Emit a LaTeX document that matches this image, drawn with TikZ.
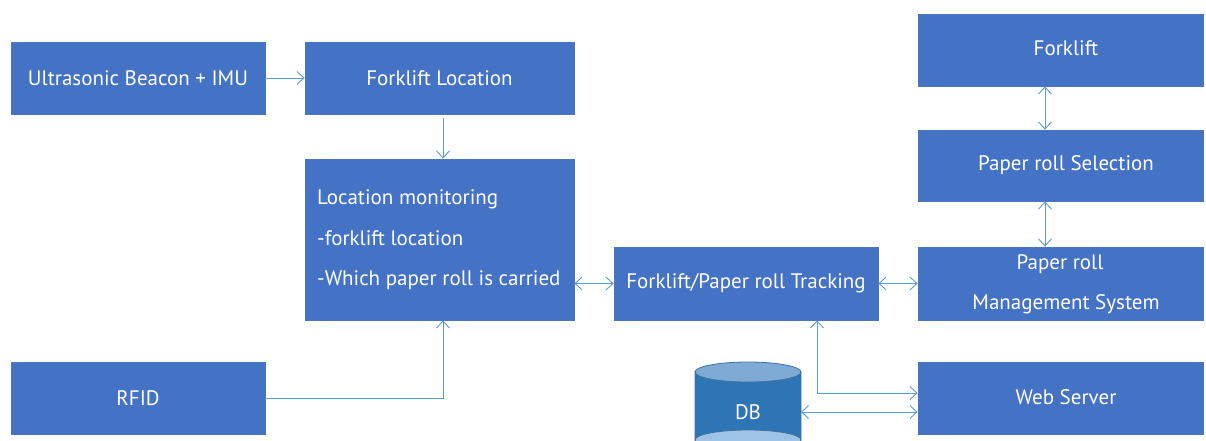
\documentclass[tikz,border=0pt]{standalone}
\usepackage{fontspec}
\setmainfont{PT Sans}
\usetikzlibrary{arrows.meta,positioning,calc}
\definecolor{boxfill}{HTML}{4472C4}
\definecolor{boxline}{HTML}{4A76C0}
\definecolor{conn}{HTML}{5B9BD5}
\definecolor{dbbody}{HTML}{2E75B6}
\definecolor{dbtop}{HTML}{7FAAD6}
\definecolor{dbbot}{HTML}{9DC3E6}
\definecolor{dbline}{HTML}{41719C}
\begin{document}
\begin{tikzpicture}[x=1pt,y=-1pt,
  txt/.style={text=white,font=\fontsize{21}{25}\selectfont,inner sep=0pt},
  blk/.style={draw=boxline,line width=0.8pt,fill=boxfill,txt},
  link/.style={draw=conn,line width=0.9pt,-{Straight Barb[length=7pt,width=13pt]}},
  dlink/.style={draw=conn,line width=0.9pt,{Straight Barb[length=7pt,width=13pt]}-{Straight Barb[length=7pt,width=13pt]}}]
\useasboundingbox (0,0) rectangle (1206,441);
\clip (0,0) rectangle (1206,441);
% boxes
\node[blk,minimum width=254pt,minimum height=72pt] (us) at (138,78) {Ultrasonic Beacon + IMU};
\node[blk,minimum width=269pt,minimum height=72pt] (fl) at (439.5,78) {Forklift Location};
\node[blk,minimum width=269pt,minimum height=161pt] (lm) at (439.5,239.5) {};
\node[blk,minimum width=254pt,minimum height=72pt] (rfid) at (138,398) {RFID};
\node[blk,minimum width=264pt,minimum height=73pt] (tr) at (746,283.5) {Forklift/Paper roll Tracking};
\node[blk,minimum width=285pt,minimum height=72pt] (fk) at (1060.5,50) {};
\node[blk,minimum width=285pt,minimum height=71pt] (ps) at (1060.5,165.5) {};
\node[blk,minimum width=285pt,minimum height=73pt] (pm) at (1060.5,283.5) {};
\node[blk,minimum width=285pt,minimum height=72pt] (ws) at (1060.5,398) {};
% texts
\node[txt] (fkt) at (1066,48) {Forklift};
\node[txt] (pst) at (1066,165) {Paper roll Selection};
\node[txt] (wst) at (1066,397) {Web Server};
\node[txt,anchor=base west] (lm1) at (317,204) {Location monitoring};
\node[txt,anchor=base west] (lm2) at (317,245) {-forklift location};
\node[txt,anchor=base west] (lm3) at (317,285) {-Which paper roll is carried};
\node[txt,anchor=base] (pm1) at (1060,269) {Paper roll};
\node[txt,anchor=base] (pm2) at (1066,309) {Management System};
% DB cylinder
\fill[dbbody,draw=dbline,line width=0.8pt] (695,372) -- (695,440) arc[start angle=180,end angle=360,x radius=53pt,y radius=10pt] -- (801,372) -- cycle;
\fill[dbbot,draw=dbline,line width=0.8pt] (748,440) ellipse[x radius=53pt,y radius=10pt];
\fill[dbtop,draw=dbline,line width=0.8pt] (748,372) ellipse[x radius=53pt,y radius=10pt];
\node[minimum width=106pt,minimum height=78pt,inner sep=0pt] (db) at (748,401) {};
\node[txt] (dblabel) at (748,412) {DB};
% connectors
\coordinate (flb) at ($(fl.south)+(3.5,4)$);
\draw[link] (flb) -- (flb |- lm.north);
\coordinate (lmb) at ($(lm.south)+(3.5,0)$);
\draw[link] (rfid.east) -- (rfid.east -| lmb) -- (lmb);
\draw[link] (us.east) -- (fl.west);
\draw[dlink] (lm.east |- tr.west) -- (tr.west);
\draw[dlink] (tr.east) -- (pm.west);
\draw[dlink] (fk.south -| 1045,0) -- (ps.north -| 1045,0);
\draw[dlink] (ps.south -| 1045,0) -- (pm.north -| 1045,0);
\coordinate (trb) at (tr.south -| 817,0);
\coordinate (wsl) at (ws.west |- 0,393);
\draw[dlink] (trb) -- (trb |- wsl) -- (wsl);
\coordinate (dbr) at (801,412);
\draw[dlink] (dbr) -- (dbr -| ws.west);
\end{tikzpicture}
\end{document}
